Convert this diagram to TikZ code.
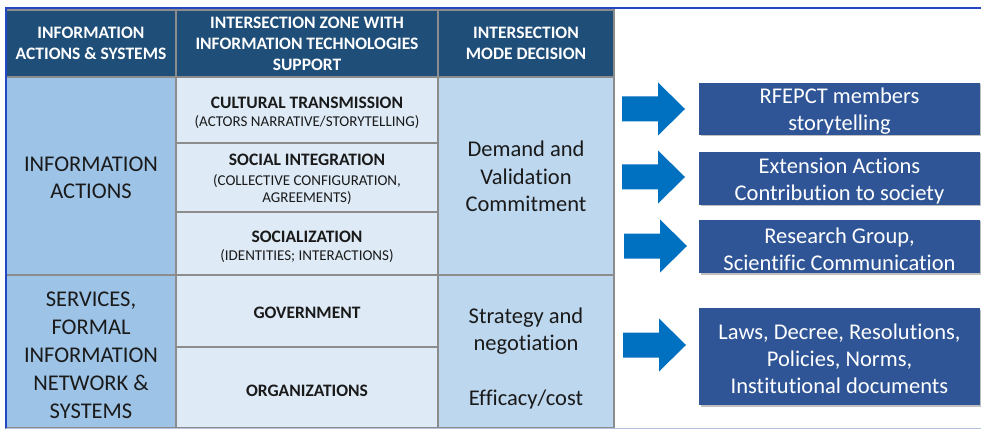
\documentclass[tikz,border=0pt]{standalone}
\usepackage{fontspec}
\setmainfont{Carlito}[Ligatures=NoCommon]
\usetikzlibrary{shadows}
\definecolor{hdr}{HTML}{1F4E79}
\definecolor{colA}{HTML}{9DC3E6}
\definecolor{colB}{HTML}{DEEBF7}
\definecolor{colC}{HTML}{BDD7EE}
\definecolor{gridc}{HTML}{8C8C8C}
\definecolor{boxb}{HTML}{2F5597}
\definecolor{arrb}{HTML}{0070C0}
\definecolor{frameb}{HTML}{2447C4}
\definecolor{framel}{HTML}{B4C2E0}
\definecolor{txt}{HTML}{1A1A1A}
\newcommand\fsz[2]{\fontsize{#1}{#2}\selectfont}
\newcommand\subline[1]{{\mdseries\fsz{15}{18}#1}}
\begin{document}
\begin{tikzpicture}[x=1pt,y=-1pt,
  cell/.style={draw=gridc,line width=1.3pt,inner sep=0pt,outer sep=0pt,anchor=north west,align=center,text=txt},
  hcell/.style={cell,fill=hdr,text=white,font=\fsz{17.5}{21}\bfseries},
  acell/.style={cell,fill=colA},
  bcell/.style={cell,fill=colB},
  ccell/.style={cell,fill=colC},
  atext/.style={align=center,text=txt,inner sep=0pt,font=\fsz{22.5}{27.5}},
  btext/.style={align=center,text=txt,inner sep=0pt,font=\fsz{17.5}{19.5}\bfseries},
  rbox/.style={fill=boxb,minimum width=281pt,inner sep=0pt,outer sep=0pt,anchor=west,
     drop shadow={shadow xshift=1.5pt,shadow yshift=-1.5pt,fill=black,opacity=0.25}},
  rtext/.style={align=center,text=white,inner sep=0pt,font=\fsz{22.5}{27}},
  blockarrow/.style={fill=arrb}
]
\useasboundingbox (0,0) rectangle (981,430);
\fill[white] (0,0) rectangle (981,430);

% header row
\node[hcell,minimum width=170pt,minimum height=67pt] (h1) at (6,10) {INFORMATION\\ACTIONS \& SYSTEMS};
\node[hcell,minimum width=262pt,minimum height=67pt] (h2) at (176,10) {INTERSECTION ZONE WITH\\INFORMATION TECHNOLOGIES\\SUPPORT};
\node[hcell,minimum width=176pt,minimum height=67pt] (h3) at (438,10) {INTERSECTION\\MODE DECISION};

% column 1
\node[acell,minimum width=170pt,minimum height=198pt] (a1) at (6,77) {};
\node[acell,minimum width=170pt,minimum height=153pt] (a2) at (6,275) {};
\node[atext] (a1t) at ([yshift=-2pt]a1.center) {INFORMATION\\ACTIONS};
\node[atext,font=\fsz{22.5}{28}] (a2t) at ([yshift=-4pt]a2.center) {SERVICES,\\FORMAL\\INFORMATION\\NETWORK \&\\SYSTEMS};

% column 2
\node[bcell,minimum width=262pt,minimum height=66pt] (b1) at (176,77) {};
\node[bcell,minimum width=262pt,minimum height=69pt] (b2) at (176,143) {};
\node[bcell,minimum width=262pt,minimum height=63pt] (b3) at (176,212) {};
\node[bcell,minimum width=262pt,minimum height=72pt] (b4) at (176,275) {};
\node[bcell,minimum width=262pt,minimum height=81pt] (b5) at (176,347) {};
\node[btext] (b1t) at ([yshift=-3pt]b1.center) {CULTURAL TRANSMISSION\\[-2pt]\subline{(ACTORS NARRATIVE/STORYTELLING)}};
\node[btext] (b2t) at ([yshift=-2pt]b2.center) {SOCIAL INTEGRATION\\\subline{(COLLECTIVE CONFIGURATION,}\\[-2pt]\subline{AGREEMENTS)}};
\node[btext] (b3t) at ([yshift=-3.5pt]b3.center) {SOCIALIZATION\\[-2pt]\subline{(IDENTITIES; INTERACTIONS)}};
\node[btext] (b4t) at ([yshift=-2pt]b4.center) {GOVERNMENT};
\node[btext] (b5t) at ([yshift=-3pt]b5.center) {ORGANIZATIONS};

% column 3
\node[ccell,minimum width=176pt,minimum height=198pt] (c1) at (438,77) {};
\node[ccell,minimum width=176pt,minimum height=153pt] (c2) at (438,275) {};
\node[atext] (c1t) at ([yshift=-0.5pt]c1.center) {Demand and\\Validation\\Commitment};
\node[atext] (c2a) at (526,331) {Strategy and\\negotiation};
\node[atext] (c2b) at (526,399) {Efficacy/cost};

% right boxes
\node[rbox,minimum height=52pt] (r1) at (699,109) {};
\node[rbox,minimum height=53pt] (r2) at (699,178.5) {};
\node[rbox,minimum height=53pt] (r3) at (699,246.5) {};
\node[rbox,minimum height=97pt] (r4) at (699,356.5) {};
\node[rtext] (r1t) at ([yshift=-2.5pt]r1.center) {RFEPCT members\\storytelling};
\node[rtext] (r2t) at ([yshift=-2.5pt]r2.center) {Extension Actions\\Contribution to society};
\node[rtext] (r3t) at ([yshift=-2.5pt]r3.center) {Research Group,\\Scientific Communication};
\node[rtext] (r4t) at ([yshift=-2.5pt]r4.center) {Laws, Decree, Resolutions,\\Policies, Norms,\\Institutional documents};

% block arrows
\foreach \cy/\xo/\xb/\xt in {109/622/658/685, 177/622/658/685, 246/624/660/687, 345/623/659/686}{
  \fill[blockarrow] (\xo,\cy-12.5) -- (\xb,\cy-12.5) -- (\xb,\cy-26.5) -- (\xt,\cy) -- (\xb,\cy+26.5) -- (\xb,\cy+12.5) -- (\xo,\cy+12.5) -- cycle;
}

% outer frame
\draw[framel,line width=1.5pt] (6,428.5) -- (981,428.5);
\draw[frameb,line width=2pt] (6,428) -- (6,8) -- (981,8);
\end{tikzpicture}
\end{document}
